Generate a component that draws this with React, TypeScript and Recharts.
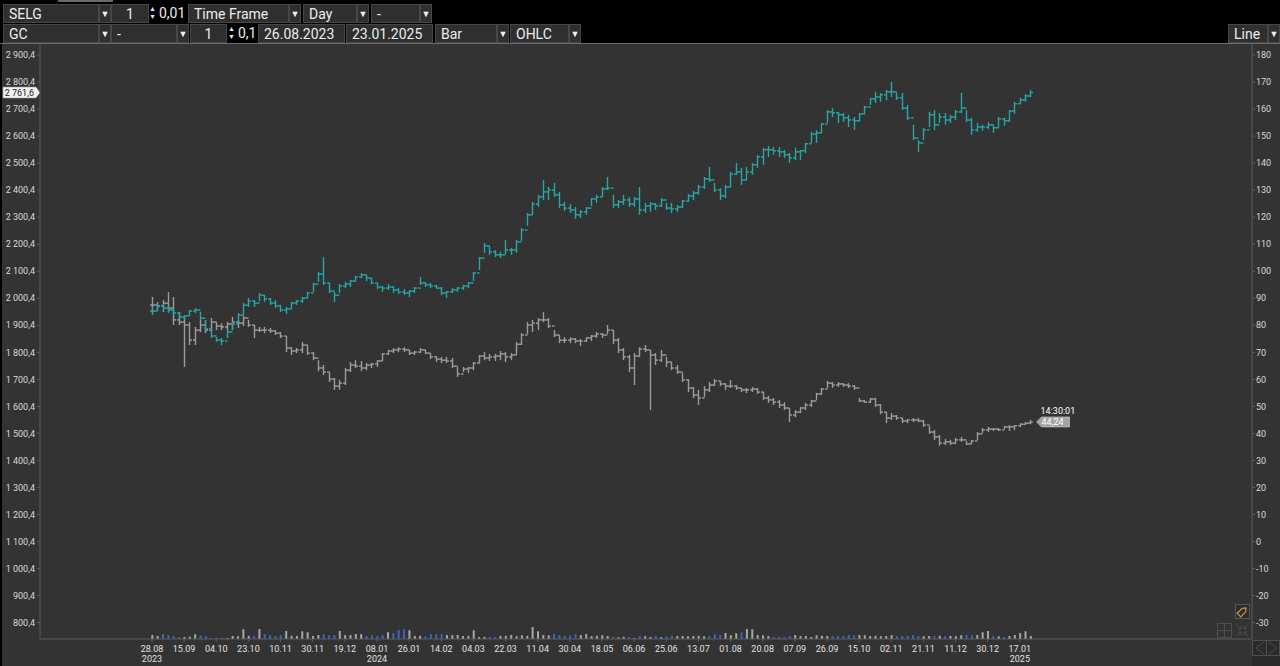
import React from 'react'
import {
    ComposedChart,
    Bar,
    XAxis,
    YAxis,
    ReferenceLine,
    ReferenceDot,
    Cell,
} from 'recharts'

// x axis labels, one every 6 bars
const tickDays = ['28.08', '15.09', '04.10', '23.10', '10.11', '30.11', '19.12', '08.01', '26.01', '14.02', '04.03', '22.03', '11.04', '30.04', '18.05', '06.06', '25.06', '13.07', '01.08', '20.08', '07.09', '26.09', '15.10', '02.11', '21.11', '11.12', '30.12', '17.01']
const tickYears = ['2023', '', '', '', '', '', '', '2024', '', '', '', '', '', '', '', '', '', '', '', '', '', '', '', '', '', '', '', '2025']

const gcTicks = [800.4, 900.4, 1000.4, 1100.4, 1200.4, 1300.4, 1400.4, 1500.4, 1600.4, 1700.4, 1800.4, 1900.4, 2000.4, 2100.4, 2200.4, 2300.4, 2400.4, 2500.4, 2600.4, 2700.4, 2800.4, 2900.4]
const selgTicks = [-30, -20, -10, 0, 10, 20, 30, 40, 50, 60, 70, 80, 90, 100, 110, 120, 130, 140, 150, 160, 170, 180]

// GC (gold), left scale
const gcHigh = [1968, 1979, 1979, 1972, 1964, 1950, 1938, 1957, 1964, 1950, 1920, 1890, 1857, 1853, 1883, 1913, 1946, 1983, 2001, 1994, 2020, 2012, 2001, 1994, 1976, 1968, 1987, 1994, 2005, 2024, 2057, 2098, 2153, 2057, 2024, 2053, 2061, 2068, 2083, 2094, 2087, 2075, 2057, 2046, 2053, 2046, 2038, 2035, 2031, 2042, 2079, 2061, 2057, 2050, 2042, 2027, 2038, 2042, 2050, 2061, 2098, 2153, 2205, 2194, 2179, 2172, 2216, 2187, 2216, 2260, 2316, 2357, 2383, 2438, 2412, 2427, 2394, 2357, 2349, 2338, 2327, 2338, 2371, 2383, 2412, 2449, 2383, 2364, 2383, 2375, 2375, 2412, 2353, 2357, 2353, 2371, 2353, 2353, 2346, 2364, 2386, 2397, 2420, 2449, 2486, 2427, 2408, 2420, 2468, 2501, 2483, 2486, 2501, 2531, 2557, 2564, 2560, 2560, 2549, 2538, 2557, 2549, 2575, 2616, 2623, 2649, 2697, 2704, 2690, 2686, 2679, 2671, 2686, 2712, 2742, 2764, 2760, 2771, 2801, 2764, 2760, 2716, 2642, 2586, 2631, 2690, 2697, 2686, 2686, 2679, 2697, 2760, 2697, 2668, 2649, 2642, 2653, 2642, 2671, 2668, 2697, 2727, 2742, 2756, 2771]
const gcLow = [1938, 1953, 1953, 1946, 1938, 1924, 1920, 1935, 1946, 1920, 1879, 1853, 1839, 1827, 1853, 1883, 1913, 1938, 1968, 1968, 1990, 1987, 1976, 1964, 1950, 1942, 1961, 1976, 1983, 2001, 2024, 2061, 2050, 2020, 1987, 2020, 2038, 2042, 2061, 2075, 2064, 2053, 2035, 2024, 2031, 2020, 2016, 2012, 2005, 2020, 2050, 2042, 2038, 2035, 2012, 2001, 2020, 2024, 2031, 2038, 2064, 2105, 2168, 2161, 2153, 2149, 2164, 2161, 2168, 2212, 2268, 2309, 2338, 2364, 2364, 2375, 2334, 2323, 2316, 2294, 2297, 2309, 2342, 2353, 2375, 2401, 2334, 2334, 2346, 2338, 2338, 2309, 2316, 2320, 2327, 2338, 2327, 2316, 2320, 2334, 2357, 2364, 2383, 2405, 2431, 2394, 2364, 2371, 2412, 2457, 2420, 2438, 2457, 2483, 2494, 2523, 2531, 2523, 2520, 2501, 2512, 2512, 2538, 2575, 2575, 2612, 2649, 2671, 2649, 2653, 2634, 2623, 2653, 2682, 2716, 2723, 2727, 2734, 2745, 2734, 2697, 2660, 2586, 2542, 2586, 2634, 2623, 2649, 2642, 2649, 2660, 2686, 2653, 2605, 2616, 2620, 2627, 2612, 2631, 2638, 2653, 2682, 2720, 2727, 2745]
const gcClose = [1953, 1972, 1964, 1957, 1946, 1931, 1935, 1953, 1957, 1927, 1887, 1861, 1846, 1842, 1876, 1905, 1938, 1975, 1990, 1983, 2012, 1998, 1983, 1972, 1957, 1961, 1983, 1990, 2001, 2020, 2053, 2090, 2057, 2027, 2012, 2046, 2053, 2064, 2079, 2087, 2075, 2057, 2042, 2038, 2042, 2031, 2024, 2020, 2027, 2038, 2057, 2050, 2046, 2038, 2020, 2024, 2031, 2038, 2046, 2057, 2094, 2149, 2194, 2172, 2161, 2161, 2179, 2179, 2209, 2253, 2309, 2349, 2375, 2394, 2401, 2383, 2346, 2334, 2327, 2309, 2320, 2334, 2368, 2375, 2405, 2408, 2346, 2357, 2364, 2349, 2368, 2327, 2342, 2349, 2342, 2364, 2334, 2331, 2338, 2360, 2379, 2390, 2412, 2442, 2438, 2401, 2379, 2412, 2460, 2468, 2438, 2468, 2494, 2523, 2550, 2550, 2546, 2542, 2531, 2520, 2542, 2546, 2572, 2608, 2612, 2645, 2690, 2686, 2679, 2668, 2660, 2657, 2682, 2708, 2738, 2745, 2753, 2764, 2764, 2742, 2704, 2668, 2593, 2575, 2623, 2679, 2642, 2671, 2660, 2671, 2690, 2704, 2660, 2623, 2634, 2634, 2642, 2631, 2664, 2657, 2693, 2720, 2734, 2749, 2761.6]

// SELG, right scale
const selgHigh = [90.5, 88.6, 89.4, 92.3, 90.5, 84.9, 82.7, 81.2, 79.4, 82.0, 82.0, 82.7, 81.2, 80.8, 81.2, 83.1, 82.0, 83.4, 82.0, 80.1, 79.4, 79.4, 79.0, 78.2, 77.5, 76.0, 71.9, 71.6, 73.8, 72.7, 70.1, 67.1, 65.3, 62.7, 60.5, 59.8, 64.2, 66.4, 67.1, 66.8, 66.0, 66.0, 67.1, 69.7, 70.9, 71.6, 71.9, 71.9, 70.9, 70.5, 71.6, 70.9, 69.7, 68.6, 68.3, 68.3, 67.9, 64.6, 64.6, 64.6, 66.4, 69.0, 70.1, 69.4, 69.4, 70.5, 70.1, 69.7, 73.8, 77.1, 81.2, 82.0, 82.7, 84.9, 82.7, 78.2, 76.4, 75.6, 75.6, 75.3, 74.9, 75.6, 76.4, 77.5, 77.1, 80.1, 78.2, 75.3, 71.6, 69.0, 69.7, 71.9, 72.7, 70.9, 69.7, 70.9, 68.3, 66.4, 65.3, 62.4, 60.1, 57.2, 56.1, 57.5, 59.0, 60.1, 59.4, 58.6, 59.8, 57.9, 56.8, 56.8, 57.2, 56.8, 55.3, 53.9, 53.1, 52.4, 51.6, 49.4, 48.6, 49.8, 51.3, 52.4, 55.0, 56.8, 59.4, 59.0, 59.0, 58.6, 58.6, 57.9, 53.1, 52.4, 53.1, 53.1, 50.9, 47.9, 47.5, 46.8, 45.7, 45.3, 45.7, 45.7, 45.0, 42.8, 41.3, 39.4, 38.0, 37.6, 38.3, 38.7, 37.2, 37.6, 40.5, 42.0, 42.4, 42.0, 42.0, 42.8, 43.1, 43.1, 43.8, 44.2, 45.0]
const selgLow = [84.5, 85.6, 84.9, 84.9, 80.1, 80.1, 64.6, 72.7, 72.7, 77.5, 77.1, 77.5, 78.2, 78.2, 78.2, 78.2, 79.0, 79.7, 79.4, 75.3, 77.5, 77.1, 77.1, 76.4, 75.3, 70.1, 69.0, 69.7, 69.7, 69.0, 67.1, 63.0, 61.6, 59.0, 56.1, 56.1, 57.9, 62.7, 64.2, 63.0, 63.4, 64.2, 64.6, 66.8, 69.0, 69.7, 70.1, 70.1, 69.0, 69.0, 69.7, 69.4, 67.5, 66.4, 66.0, 66.0, 64.2, 60.9, 62.7, 62.4, 63.4, 66.0, 67.1, 66.8, 66.8, 67.1, 66.4, 67.1, 69.0, 72.7, 76.8, 77.5, 78.2, 81.2, 79.0, 75.6, 73.4, 73.4, 73.4, 73.4, 72.3, 73.8, 74.2, 75.3, 75.3, 76.8, 73.0, 69.7, 67.1, 62.7, 57.9, 68.3, 70.1, 48.6, 65.3, 66.4, 64.6, 63.4, 62.0, 59.0, 55.3, 53.1, 50.5, 53.5, 55.3, 57.5, 57.5, 56.1, 56.8, 56.1, 55.3, 54.9, 55.3, 54.6, 52.4, 51.3, 50.5, 49.4, 48.6, 44.2, 46.0, 47.5, 48.6, 49.8, 52.4, 54.2, 56.8, 56.8, 57.2, 57.2, 56.8, 56.1, 51.6, 51.3, 51.3, 49.8, 47.1, 43.8, 45.0, 45.0, 43.8, 43.8, 44.2, 44.2, 42.4, 39.8, 37.6, 35.4, 35.7, 35.7, 36.1, 36.9, 35.7, 36.1, 37.6, 40.2, 40.5, 40.9, 40.9, 41.6, 40.9, 41.3, 42.4, 43.1, 43.4]
const selgClose = [87.5, 87.1, 88.2, 86.4, 82.0, 81.2, 80.1, 74.5, 78.2, 80.1, 78.2, 81.2, 79.7, 79.4, 80.5, 81.2, 80.8, 82.7, 80.1, 78.2, 78.2, 78.2, 77.9, 77.1, 76.0, 71.6, 70.5, 70.9, 72.7, 69.7, 67.9, 64.2, 62.7, 60.1, 57.5, 58.6, 63.4, 65.3, 64.9, 64.2, 65.3, 65.7, 66.8, 69.4, 70.5, 70.9, 71.2, 70.9, 69.7, 70.1, 70.9, 69.7, 68.3, 67.5, 67.1, 66.8, 64.9, 62.0, 63.8, 64.2, 66.0, 68.6, 67.9, 68.3, 68.6, 69.4, 68.3, 69.0, 73.0, 76.4, 80.1, 80.8, 82.0, 82.0, 79.7, 76.4, 74.5, 74.5, 74.9, 74.2, 74.2, 75.3, 76.0, 76.8, 76.4, 78.2, 74.5, 70.9, 68.3, 64.2, 68.6, 71.2, 70.9, 69.0, 67.1, 69.0, 66.4, 64.2, 62.7, 59.8, 56.8, 54.2, 53.1, 56.1, 57.9, 59.4, 58.3, 57.5, 57.5, 56.8, 56.1, 56.1, 56.4, 55.3, 53.1, 52.4, 51.6, 50.5, 49.4, 46.8, 47.9, 49.4, 50.5, 52.0, 54.6, 56.4, 58.6, 57.9, 58.3, 57.9, 57.5, 56.8, 52.0, 51.6, 52.7, 50.5, 47.9, 45.7, 46.4, 45.7, 44.6, 45.0, 45.0, 44.6, 43.1, 40.5, 38.7, 36.4, 36.9, 36.4, 37.6, 37.6, 36.1, 37.2, 39.8, 41.3, 41.6, 41.6, 41.3, 42.4, 42.4, 42.8, 43.4, 43.8, 44.24]

// volume, thousands
const volume = [100, 75, 125, 100, 75, 50, 50, 55, 120, 95, 70, 25, 25, 30, 25, 75, 70, 245, 80, 70, 250, 120, 100, 75, 95, 200, 80, 75, 195, 170, 75, 100, 120, 95, 100, 205, 95, 100, 125, 120, 75, 95, 80, 100, 170, 150, 225, 250, 220, 75, 80, 70, 125, 120, 125, 100, 95, 100, 75, 80, 220, 50, 55, 50, 45, 75, 80, 100, 70, 95, 80, 300, 195, 100, 95, 125, 100, 75, 95, 120, 100, 125, 70, 80, 95, 75, 50, 45, 55, 50, 25, 75, 70, 50, 75, 45, 70, 80, 75, 75, 70, 75, 80, 70, 75, 120, 100, 150, 95, 145, 170, 250, 245, 100, 95, 75, 50, 55, 45, 75, 100, 70, 75, 50, 95, 80, 75, 70, 75, 80, 100, 95, 100, 95, 75, 80, 70, 75, 95, 70, 75, 80, 100, 75, 70, 75, 75, 80, 70, 75, 70, 95, 100, 95, 100, 170, 200, 75, 70, 50, 75, 100, 150, 195, 75]

const rows = gcClose.map((c, i) => ({
    idx: i,
    gO: i ? gcClose[i - 1] : c,
    gH: gcHigh[i],
    gL: gcLow[i],
    gC: c,
    sO: i ? selgClose[i - 1] : selgClose[i],
    sH: selgHigh[i],
    sL: selgLow[i],
    sC: selgClose[i],
    vol: volume[i],
}))

const last = rows.length - 1
const xDomain = [-20.9, 205.34]

const fmtGc = (v: number) => {
    const [int, dec] = v.toFixed(1).split('.')
    return int.replace(/\B(?=(\d{3})+(?!\d))/g, '\u00a0') + ',' + dec
}

const font = 'Roboto, "Noto Sans", sans-serif'

function Ohlc(props: any) {
    const { x, y, width, height, payload, color, k } = props
    const hi = payload[k + 'H']
    const lo = payload[k + 'L']
    const top = Math.min(y, y + height)
    const h = Math.abs(height)
    const py = (v: number) => (hi === lo ? top : top + ((hi - v) / (hi - lo)) * h)
    const cx = Math.round(x + width / 2) + 0.5
    return (
        <g stroke={color} strokeWidth={1.4}>
            <line x1={cx} x2={cx} y1={top} y2={top + Math.max(h, 1)} />
            <line x1={cx - 2.5} x2={cx} y1={py(payload[k + 'O'])} y2={py(payload[k + 'O'])} />
            <line x1={cx} x2={cx + 2.5} y1={py(payload[k + 'C'])} y2={py(payload[k + 'C'])} />
        </g>
    )
}

function XTick(props: any) {
    const { x, y, payload } = props
    const k = Math.round(payload.value / 6)
    return (
        <g fontFamily={font} fontSize={9} fill="#e2e2e2">
            <text x={x} y={y} dy={8} textAnchor="middle">{tickDays[k]}</text>
            {tickYears[k] && (
                <text x={x} y={y} dy={17.5} textAnchor="middle">{tickYears[k]}</text>
            )}
        </g>
    )
}

function LeftTick(props: any) {
    const { x, y, payload } = props
    return (
        <text x={x} y={y} dy={3.2} textAnchor="end" fontFamily={font} fontSize={9} fill="#d8d8d8">
            {fmtGc(payload.value)}
        </text>
    )
}

function RightTick(props: any) {
    const { x, y, payload } = props
    return (
        <text x={x} y={y} dy={3.2} textAnchor="start" fontFamily={font} fontSize={9} fill="#d8d8d8">
            {payload.value}
        </text>
    )
}

function GcTag(props: any) {
    const vb = props.viewBox || props
    const y = vb.y
    return (
        <g>
            <polygon
                points={`3,${y - 5.5} 36,${y - 5.5} 40,${y} 36,${y + 5.5} 3,${y + 5.5}`}
                fill="#f2f2f2"
                stroke="#9a9a9a"
                strokeWidth={0.6}
            />
            <text x={34} y={y + 3.2} textAnchor="end" fontSize={9} fontFamily={font} fill="#1c1c1c">
                {fmtGc(gcClose[last])}
            </text>
        </g>
    )
}

function SelgTag(props: any) {
    const vb = props.viewBox || props
    const x = vb.x + (vb.width || 0) / 2 + 6
    const y = vb.y + (vb.height || 0) / 2
    return (
        <g fontFamily={font} fontSize={9}>
            <text x={x + 4} y={y - 8} fill="#ffffff">14:30:01</text>
            <polygon
                points={`${x},${y} ${x + 5},${y - 5} ${x + 33},${y - 5} ${x + 33},${y + 5} ${x + 5},${y + 5}`}
                fill="#a3a3a3"
                stroke="#d0d0d0"
                strokeWidth={0.6}
            />
            <text x={x + 5} y={y + 3.2} fill="#ffffff">{selgClose[last].toFixed(2).replace('.', ',')}</text>
        </g>
    )
}

type BoxProps = { x: number; y: number; w: number; text?: string; center?: boolean; bg?: string }

function Box({ x, y, w, text, center, bg }: BoxProps) {
    return (
        <div
            style={{
                position: 'absolute',
                left: x,
                top: y,
                width: w,
                height: 19,
                boxSizing: 'border-box',
                background: bg || '#2f2f2f',
                border: bg ? 'none' : '1px solid #474747',
                color: '#ececec',
                fontSize: 14,
                lineHeight: '18px',
                paddingLeft: center ? 0 : bg ? 1 : 5,
                textAlign: center ? 'center' : 'left',
                whiteSpace: 'nowrap',
            }}
        >
            {text}
        </div>
    )
}

function Drop({ x, y }: { x: number; y: number }) {
    return (
        <div
            style={{
                position: 'absolute',
                left: x,
                top: y,
                width: 12,
                height: 19,
                boxSizing: 'border-box',
                background: '#2f2f2f',
                border: '1px solid #474747',
                color: '#f0f0f0',
                fontSize: 9,
                lineHeight: '18px',
                textAlign: 'center',
            }}
        >
            ▼
        </div>
    )
}

function Spin({ x, y }: { x: number; y: number }) {
    return (
        <div style={{ position: 'absolute', left: x, top: y + 1, width: 9, color: '#e6e6e6', fontSize: 7, lineHeight: '8px', textAlign: 'center' }}>
            ▲<br />▼
        </div>
    )
}

function Toolbar() {
    return (
        <>
            <div style={{ position: 'absolute', left: 58, top: 0, width: 55, height: 2, background: '#6a6a6a' }} />
            <Box x={3} y={4} w={96} text="SELG" />
            <Drop x={99} y={4} />
            <Box x={111} y={4} w={38} text="1" center />
            <Spin x={148} y={4} />
            <Box x={158} y={4} w={29} text="0,01" bg="#000" />
            <Box x={188} y={4} w={101} text="Time Frame" />
            <Drop x={289} y={4} />
            <Box x={303} y={4} w={54} text="Day" />
            <Drop x={357} y={4} />
            <Box x={371} y={4} w={49} text="-" />
            <Drop x={420} y={4} />

            <Box x={3} y={24} w={96} text="GC" />
            <Drop x={99} y={24} />
            <Box x={111} y={24} w={66} text="-" />
            <Drop x={177} y={24} />
            <Box x={190} y={24} w={37} text="1" center />
            <Spin x={227} y={24} />
            <Box x={237} y={24} w={20} text="0,1" bg="#000" />
            <Box x={258} y={24} w={87} text="26.08.2023" />
            <Box x={346} y={24} w={87} text="23.01.2025" />
            <Box x={435} y={24} w={62} text="Bar" />
            <Drop x={497} y={24} />
            <Box x={510} y={24} w={59} text="OHLC" />
            <Drop x={569} y={24} />
            <Box x={1228} y={24} w={40} text="Line" />
            <Drop x={1268} y={24} />
        </>
    )
}

function Decor() {
    return (
        <svg width={1280} height={666} style={{ position: 'absolute', left: 0, top: 0, pointerEvents: 'none' }}>
            <rect x={1235.5} y={604.5} width={14} height={14} fill="#2c2c2c" stroke="#555" />
            <g transform="translate(1242.5 611.5) rotate(-45)" fill="none" stroke="#d0954a" strokeWidth={1.2}>
                <path d="M-5,-2.5 L2,-2.5 L5,0 L2,2.5 L-5,2.5 Z" />
            </g>
            <g fill="none" stroke="#4e4e4e" strokeWidth={1}>
                <rect x={1217.5} y={623.5} width={14} height={14} />
                <line x1={1224.5} x2={1224.5} y1={623.5} y2={637.5} />
                <line x1={1217.5} x2={1231.5} y1={630.5} y2={630.5} />
                <path d="M1237,625 L1241,629 M1241,626 L1241,629 L1238,629" />
                <path d="M1248,625 L1244,629 M1244,626 L1244,629 L1247,629" />
                <path d="M1237,636 L1241,632 M1238,632 L1241,632 L1241,635" />
                <path d="M1248,636 L1244,632 M1247,632 L1244,632 L1244,635" />
            </g>
            <rect x={1252} y={640} width={28} height={26} fill="#2a2a2a" />
            <g fill="none" stroke="#4e4e4e" strokeWidth={1}>
                <rect x={1252.5} y={640.5} width={27} height={15} />
                <line x1={1266.5} x2={1266.5} y1={640.5} y2={655.5} />
                <path d="M1264,642 L1256,648 L1264,654" />
                <path d="M1269,642 L1277,648 L1269,654" />
            </g>
        </svg>
    )
}

export default function App() {
    return (
        <div style={{ position: 'absolute', left: 0, top: 0, width: 1280, height: 666, background: '#000', overflow: 'hidden', fontFamily: font }}>
            <Toolbar />
            <div style={{ position: 'absolute', left: 0, top: 43, width: 1280, height: 1, background: '#6e6e6e' }} />
            <div style={{ position: 'absolute', left: 0, top: 44, width: 1280, height: 622, background: '#333333' }}>
                <ComposedChart width={1280} height={622} data={rows} margin={{ top: 0, right: 0, bottom: 0, left: 0 }}>
                    <XAxis
                        xAxisId="x"
                        type="number"
                        dataKey="idx"
                        domain={xDomain}
                        allowDataOverflow
                        ticks={tickDays.map((_, k) => k * 6)}
                        interval={0}
                        height={27}
                        stroke="#5c5c5c"
                        tickSize={3}
                        tickMargin={2}
                        tick={<XTick />}
                    />
                    <XAxis xAxisId="x2" type="number" dataKey="idx" domain={xDomain} allowDataOverflow hide />
                    <XAxis xAxisId="x3" type="number" dataKey="idx" domain={xDomain} allowDataOverflow hide />
                    <YAxis
                        yAxisId="gc"
                        orientation="left"
                        width={40}
                        domain={[739.8, 2941.1]}
                        allowDataOverflow
                        ticks={gcTicks}
                        interval={0}
                        stroke="#5c5c5c"
                        tickSize={3}
                        tickMargin={2}
                        tick={<LeftTick />}
                    />
                    <YAxis
                        yAxisId="selg"
                        orientation="right"
                        width={28}
                        domain={[-36.06, 184.07]}
                        allowDataOverflow
                        ticks={selgTicks}
                        interval={0}
                        stroke="#5c5c5c"
                        tickSize={3}
                        tickMargin={1}
                        tick={<RightTick />}
                    />
                    <YAxis yAxisId="vol" hide domain={[0, 15000]} />

                    <Bar xAxisId="x3" yAxisId="vol" dataKey="vol" barSize={2} isAnimationActive={false}>
                        {rows.map((r) => (
                            <Cell key={r.idx} fill={r.gC < r.gO ? '#3d63c4' : '#a8a8a8'} />
                        ))}
                    </Bar>
                    <Bar
                        xAxisId="x2"
                        yAxisId="selg"
                        dataKey={(d: any) => [d.sL, d.sH]}
                        barSize={5}
                        isAnimationActive={false}
                        shape={(p: any) => <Ohlc {...p} color="#9c9c9c" k="s" />}
                    />
                    <Bar
                        xAxisId="x"
                        yAxisId="gc"
                        dataKey={(d: any) => [d.gL, d.gH]}
                        barSize={5}
                        isAnimationActive={false}
                        shape={(p: any) => <Ohlc {...p} color="#27a7a7" k="g" />}
                    />

                    <ReferenceLine xAxisId="x" yAxisId="gc" y={gcClose[last]} stroke="none" label={(p: any) => <GcTag {...p} />} />
                    <ReferenceDot
                        xAxisId="x2"
                        yAxisId="selg"
                        x={last}
                        y={selgClose[last]}
                        r={0.5}
                        fill="none"
                        stroke="none"
                        label={(p: any) => <SelgTag {...p} />}
                    />
                </ComposedChart>
            </div>
            <div style={{ position: 'absolute', left: 0, top: 44, width: 2, height: 622, background: '#000' }} />
            <Decor />
        </div>
    )
}
